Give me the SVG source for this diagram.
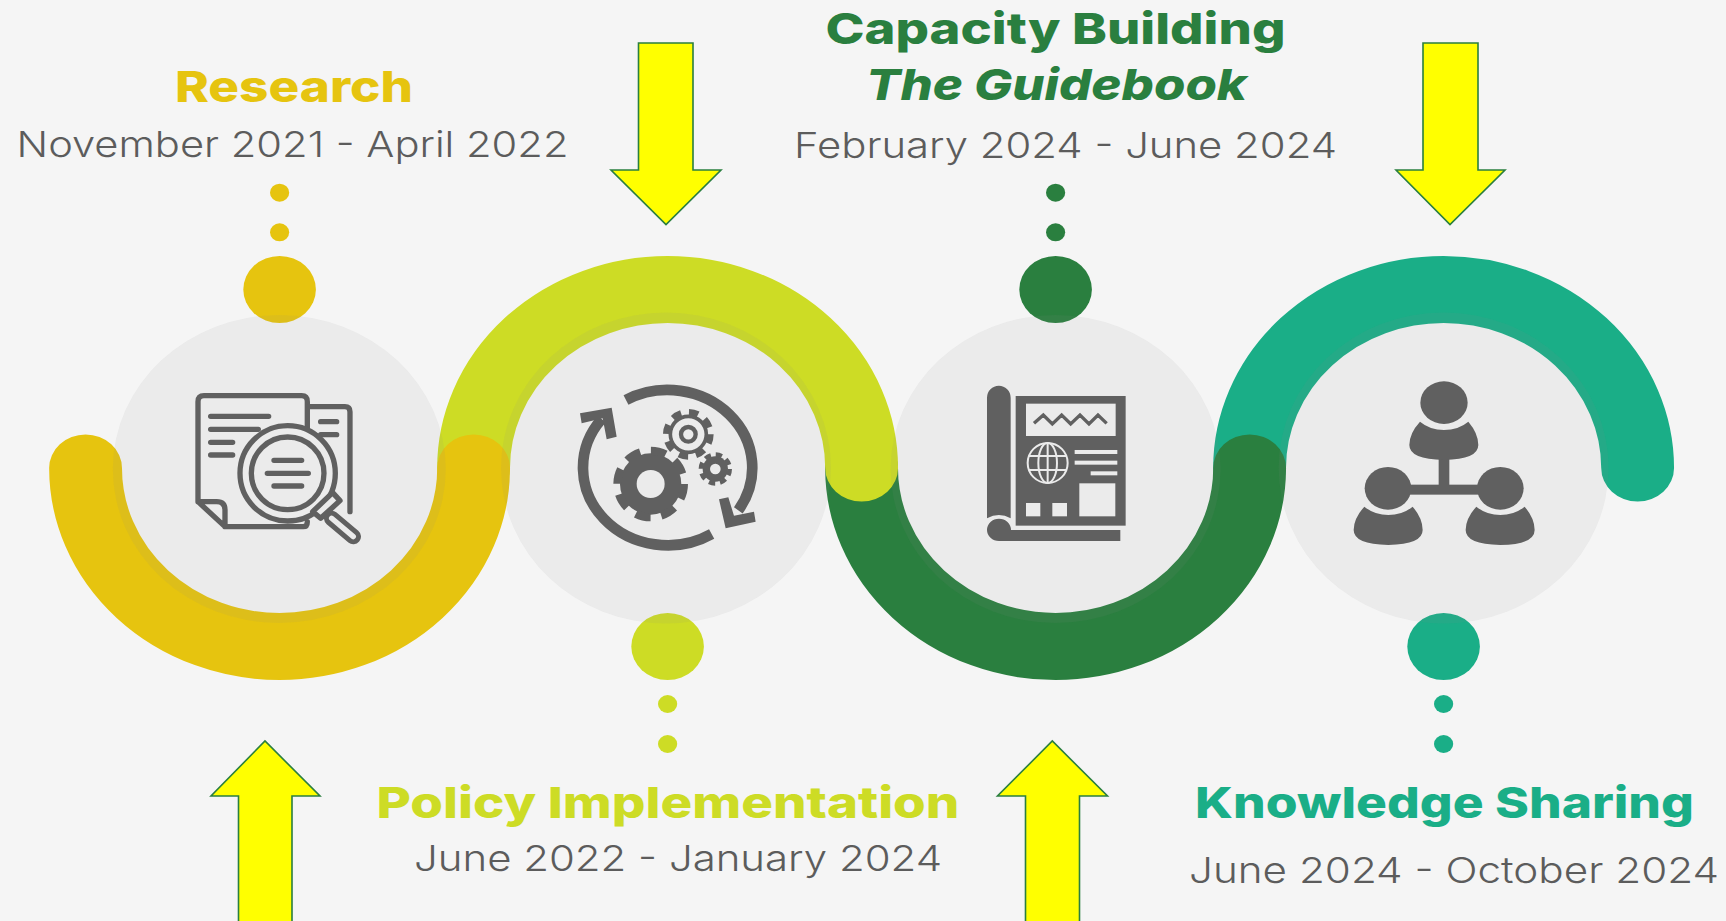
<svg xmlns="http://www.w3.org/2000/svg" width="1726" height="921" viewBox="0 0 1726 921">
<defs>
<style>
.arc{fill:none;stroke-width:67;stroke-linecap:round}
.halo{fill:#8c8c8c;fill-opacity:.095}
.arrow{fill:#ffff00;stroke:#2a7f3f;stroke-width:1.6;stroke-linejoin:miter}
.head{font-family:"Inter","Liberation Sans",sans-serif;font-weight:800;font-size:43px}
.date{font-family:"Inter","Liberation Sans",sans-serif;font-weight:300;font-size:36px;fill:#5c5c5c}
.ln{fill:none;stroke:#606060;stroke-width:16;stroke-linecap:round;stroke-linejoin:round}
.ic{fill:#606060}
.lt{fill:#ebebeb}
.ls{fill:none;stroke:#ebebeb;stroke-width:6}
.y{fill:#e6c40f}.l{fill:#cddc25}.g{fill:#2a7f3f}.t{fill:#1aae87}
</style>
</defs>
<rect width="1726" height="921" fill="#f5f5f5"/>
<g id="connectors">
<path class="arc" stroke="#1aae87" transform="translate(1443.6,468) scale(1.087,1)" d="M-178.5,0A178.5,178.5 0 0 1 178.5,0"/>
<path class="arc" stroke="#2a7f3f" transform="translate(1055.6,468) scale(1.087,1)" d="M-178.5,0A178.5,178.5 0 0 0 178.5,0"/>
<path class="arc" stroke="#cddc25" transform="translate(667.6,468) scale(1.087,1)" d="M-178.5,0A178.5,178.5 0 0 1 178.5,0"/>
<path class="arc" stroke="#e6c40f" transform="translate(279.6,468) scale(1.087,1)" d="M-178.5,0A178.5,178.5 0 0 0 178.5,0"/>
<path class="arrow" d="M638.5,43H693V170H721L666,224.5L611,170H638.5Z"/>
<path class="arrow" d="M1423,43H1478V170H1505L1450,224.5L1396,170H1423Z"/>
<path class="arrow" d="M238.5,925V796H211L265,741L320,796H292V925Z"/>
<path class="arrow" d="M1025.5,925V796H997.5L1052.3,741L1107.5,796H1079.5V925Z"/>
</g>
<g id="node-research">
<ellipse class="y" cx="279.6" cy="192.7" rx="9.6" ry="9"/>
<ellipse class="y" cx="279.6" cy="232.3" rx="9.6" ry="9"/>
<ellipse class="y" cx="279.6" cy="289.5" rx="36.3" ry="33.5"/>
<ellipse class="halo" cx="279.3" cy="469" rx="166.5" ry="154"/>
<text class="head y" x="175" y="101.7" textLength="238" lengthAdjust="spacingAndGlyphs">Research</text>
<text class="date" x="16.5" y="156.7" textLength="552" lengthAdjust="spacingAndGlyphs">November 2021 - April 2022</text>
<g transform="translate(170,370) scale(.3333)">
<path class="ln" d="M412,180V95Q412,77 395,77H102Q84,77 84,95V395L165,470H400Q412,470 412,455M84,395H140Q165,395 165,420V470"/>
<path class="ln" d="M418,110H525Q540,110 540,125V425"/>
<path class="ln" d="M122,139H296M122,178H265M122,217H188M122,255H188M452,155H500M452,194H500"/>
<circle class="lt" cx="353" cy="310" r="143"/>
<circle class="ln" cx="353" cy="310" r="143"/>
<circle class="ln" cx="353" cy="310" r="109"/>
<path class="ln" d="M312,271H395M292,310H415M312,348H395"/>
<path class="ln" style="fill:#ebebeb" d="M488,368L510,392L452,445L428,425Z"/>
<path d="M485,445L550,500" fill="none" stroke="#606060" stroke-width="46" stroke-linecap="round"/>
<path d="M485,445L550,500" fill="none" stroke="#ebebeb" stroke-width="16" stroke-linecap="round"/>
</g>
</g>
<g id="node-policy">
<ellipse class="l" cx="667.6" cy="646.5" rx="36.3" ry="33.5"/>
<ellipse class="l" cx="667.6" cy="704" rx="9.6" ry="9"/>
<ellipse class="l" cx="667.6" cy="744" rx="9.6" ry="9"/>
<ellipse class="halo" cx="666" cy="468" rx="165" ry="155.5"/>
<text class="head l" x="376.4" y="818.3" textLength="583" lengthAdjust="spacingAndGlyphs">Policy Implementation</text>
<text class="date" x="414" y="870.7" textLength="528" lengthAdjust="spacingAndGlyphs">June 2022 - January 2024</text>
<g transform="translate(560,370) scale(.3333)">
<g fill="none" stroke="#606060" stroke-width="32">
<path d="M198,90A254,233 0 0 1 535,421"/>
<path d="M455,492A254,233 0 0 1 125,147"/>
</g>
<path class="ic" d="M477,388L505,382L522,437L582,425L587,455L497,475Z"/>
<path class="ic" d="M60,130L155,113L170,200L140,208L128,145L65,160Z"/>
<circle class="ic" cx="272" cy="342" r="92"/>
<circle cx="272" cy="342" r="100" fill="none" stroke="#606060" stroke-width="24" stroke-dasharray="46 32.54"/>
<circle class="lt" cx="272" cy="342" r="42"/>
<circle cx="385" cy="193" r="66" fill="none" stroke="#606060" stroke-width="20" stroke-dasharray="28 23.84"/>
<circle cx="385" cy="193" r="54" fill="#ebebeb" stroke="#606060" stroke-width="11"/>
<circle cx="385" cy="193" r="22" fill="none" stroke="#606060" stroke-width="13"/>
<circle class="ic" cx="466" cy="297" r="38"/>
<circle cx="466" cy="297" r="43" fill="none" stroke="#606060" stroke-width="14" stroke-dasharray="19 14.77"/>
<circle class="lt" cx="466" cy="297" r="16"/>
</g>
</g>
<g id="node-capacity">
<ellipse class="g" cx="1055.6" cy="192.7" rx="9.6" ry="9"/>
<ellipse class="g" cx="1055.6" cy="232.3" rx="9.6" ry="9"/>
<ellipse class="g" cx="1055.6" cy="289.5" rx="36.3" ry="33.5"/>
<ellipse class="halo" cx="1055.6" cy="469" rx="165" ry="154"/>
<text class="head g" x="825.5" y="44" textLength="460" lengthAdjust="spacingAndGlyphs">Capacity Building</text>
<text class="head g" x="866" y="100" textLength="381" lengthAdjust="spacingAndGlyphs" font-style="italic">The Guidebook</text>
<text class="date" x="794" y="157.7" textLength="543" lengthAdjust="spacingAndGlyphs">February 2024 - June 2024</text>
<g transform="translate(960,370) scale(.3333)">
<path class="ic" d="M81,445V83A35.500,36 0 0 1 152,83V445Q117,425 81,445Z"/>
<path class="ic" d="M81,480A36,34 0 0 1 153,480H481V513H117A36,33 0 0 1 81,480Z"/>
<rect class="ic" x="167" y="78" width="330" height="389"/>
<rect class="lt" x="198" y="101" width="269" height="97"/>
<polyline points="222,160 250,135 277,162 305,135 332,162 360,135 387,162 414,135 440,160" fill="none" stroke="#606060" stroke-width="10"/>
<circle class="ls" cx="263" cy="279" r="60"/>
<ellipse class="ls" cx="263" cy="279" rx="28" ry="60"/>
<path class="ls" d="M263,219V339M207,258H319M207,300H319"/>
<rect class="lt" x="344" y="240" width="128" height="12"/>
<rect class="lt" x="344" y="272" width="128" height="12"/>
<rect class="lt" x="392" y="304" width="80" height="12"/>
<rect class="lt" x="358" y="340" width="108" height="99"/>
<rect class="lt" x="198" y="399" width="43" height="40"/>
<rect class="lt" x="277" y="399" width="44" height="40"/>
</g>
</g>
<g id="node-knowledge">
<ellipse class="t" cx="1443.6" cy="646.5" rx="36.3" ry="33.5"/>
<ellipse class="t" cx="1443.6" cy="704" rx="9.6" ry="9"/>
<ellipse class="t" cx="1443.6" cy="744" rx="9.6" ry="9"/>
<ellipse class="halo" cx="1443.6" cy="468" rx="165" ry="155.5"/>
<text class="head t" x="1195" y="818.3" textLength="499" lengthAdjust="spacingAndGlyphs">Knowledge Sharing</text>
<text class="date" x="1189" y="882.7" textLength="530" lengthAdjust="spacingAndGlyphs">June 2024 - October 2024</text>
<g transform="translate(1340,370) scale(.3333)">
<rect class="ic" x="296" y="265" width="32" height="90"/>
<rect class="ic" x="200" y="344" width="230" height="30"/>
<ellipse class="ic" cx="312" cy="98" rx="71" ry="64"/>
<path class="ic" d="M240,155Q270,180 312,180Q355,180 385,155Q415,190 415,225Q415,268 312,270Q208,268 208,225Q208,190 240,155Z"/>
<ellipse class="ic" cx="144" cy="355" rx="70" ry="64"/>
<path class="ic" transform="translate(-167,255)" d="M240,155Q270,180 312,180Q355,180 385,155Q415,190 415,225Q415,268 312,270Q208,268 208,225Q208,190 240,155Z"/>
<ellipse class="ic" cx="481" cy="355" rx="70" ry="64"/>
<path class="ic" transform="translate(169,255)" d="M240,155Q270,180 312,180Q355,180 385,155Q415,190 415,225Q415,268 312,270Q208,268 208,225Q208,190 240,155Z"/>
</g>
</g>
</svg>
